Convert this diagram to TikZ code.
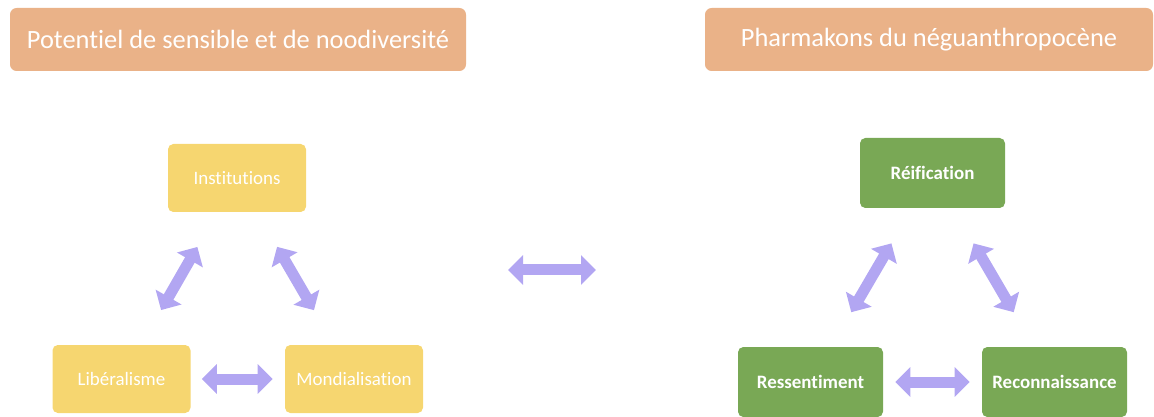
\documentclass[tikz,border=0pt]{standalone}
\usepackage{fontspec}
\setmainfont{Carlito}[Ligatures=NoCommon]
\usetikzlibrary{arrows.meta, positioning}

\definecolor{titreorange}{RGB}{234,178,136}
\definecolor{jaune}{RGB}{246,214,112}
\definecolor{vert}{RGB}{121,168,85}
\definecolor{mauve}{RGB}{178,166,242}

\tikzset{
  titre/.style={fill=titreorange, rounded corners=5pt, text=white, minimum height=47.25pt,
    font=\fontsize{19.8}{24}\selectfont},
  boitejaune/.style={fill=jaune, rounded corners=4pt, text=white, minimum width=103.5pt,
    minimum height=51pt, font=\fontsize{14.2}{17}\selectfont},
  boiteverte/.style={fill=vert, rounded corners=4pt, text=white, minimum width=108.75pt,
    minimum height=52.5pt, font=\fontsize{14.2}{17}\selectfont\bfseries},
  double fleche/.style={draw=mauve, line width=8.25pt,
    {Triangle[width=21.75pt,length=11.25pt]}-{Triangle[width=21.75pt,length=11.25pt]}},
}

\begin{document}
\begin{tikzpicture}[x=0.75pt,y=0.75pt,yscale=-1,xscale=1]
  \useasboundingbox (0,0) rectangle (1154,417);

  % Titres
  \node [titre, minimum width=342pt] (titregauche) at (238,39.5) {Potentiel de sensible et de noodiversité};
  \node [titre, minimum width=336pt] (titredroite) at (929,39.5) {Pharmakons du néguanthropocène};

  % Triangle gauche
  \node [boitejaune] (institutions) at (237,178) {Institutions};
  \node [boitejaune] (liberalisme) at (121.5,379) {Libéralisme};
  \node [boitejaune] (mondialisation) at (354,379) {Mondialisation};

  \draw [double fleche, shorten <=30pt, shorten >=30pt] (institutions) -- (liberalisme);
  \draw [double fleche, shorten <=30pt, shorten >=30pt] (institutions) -- (mondialisation);
  \draw [double fleche, shorten <=8.25pt, shorten >=9pt] (liberalisme) -- (mondialisation);

  % Fleche centrale
  \coordinate (milieugauche) at (508,270);
  \coordinate (milieudroite) at (596,270);
  \draw [double fleche] (milieugauche) -- (milieudroite);

  % Triangle droit
  \node [boiteverte] (reification) at (932.5,173) {Réification};
  \node [boiteverte] (ressentiment) at (810.5,382) {Ressentiment};
  \node [boiteverte] (reconnaissance) at (1054.5,382) {Reconnaissance};

  \draw [double fleche, shorten <=30.5pt, shorten >=30pt] (reification) -- (ressentiment);
  \draw [double fleche, shorten <=30.5pt, shorten >=30pt] (reification) -- (reconnaissance);
  \draw [double fleche, shorten <=9pt, shorten >=9pt] (ressentiment) -- (reconnaissance);
\end{tikzpicture}
\end{document}
